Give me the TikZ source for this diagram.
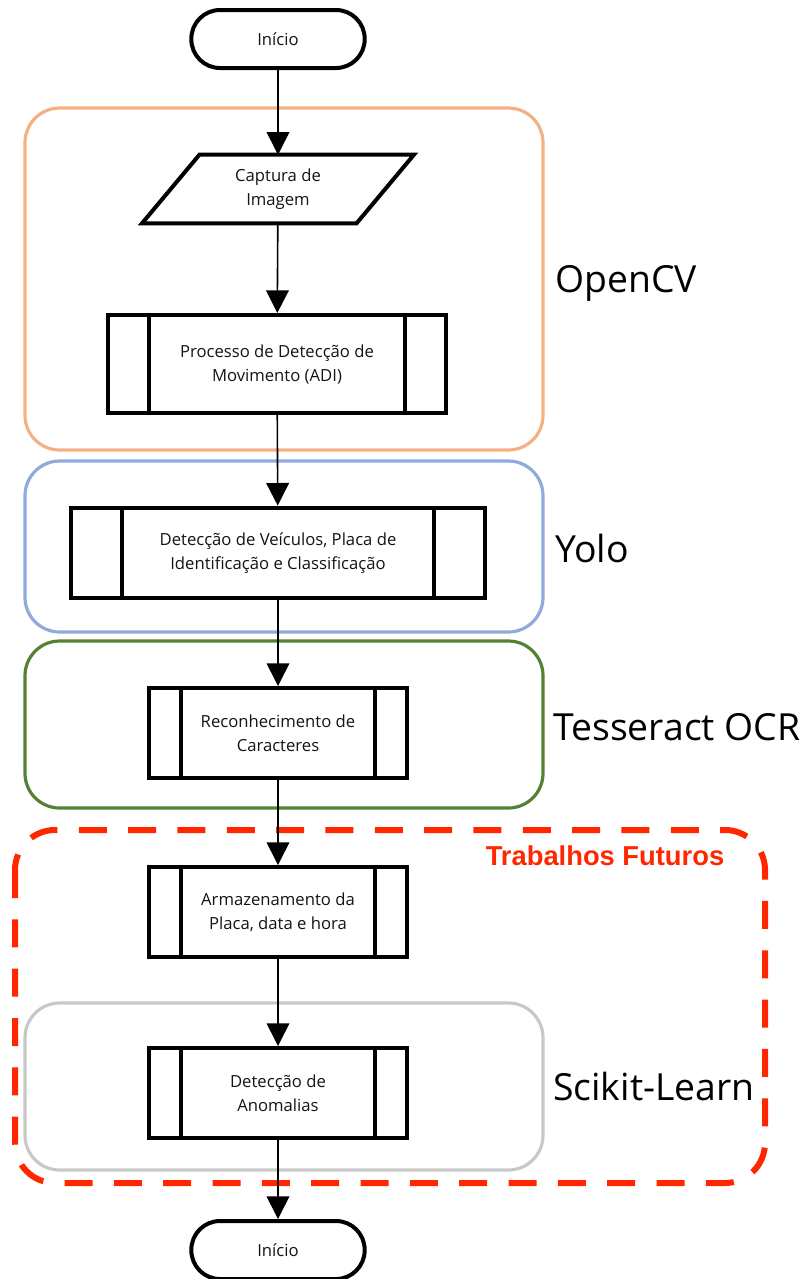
\documentclass[tikz,border=0pt]{standalone}
\usepackage{fontspec}
\setmainfont{Open Sans}
\newfontfamily\flowhead{Liberation Sans}
\usepackage{tikz}
\usetikzlibrary{arrows.meta}
\definecolor{flowink}{RGB}{0,0,0}
\definecolor{flowtext}{RGB}{20,20,20}
\definecolor{flowcv}{RGB}{244,177,131}
\definecolor{flowyolo}{RGB}{143,170,220}
\definecolor{flowocr}{RGB}{84,130,53}
\definecolor{flowsk}{RGB}{200,200,200}
\definecolor{flowred}{RGB}{255,38,0}
\tikzset{
  flowterm/.style={draw=flowink, line width=3pt, fill=white,
    rounded corners=21.5pt, minimum width=130pt, minimum height=43.5pt,
    font=\fontsize{12.5}{18}\selectfont, text=flowtext},
  flowproc/.style={draw=flowink, line width=3pt, fill=white, align=center,
    minimum width=194pt, minimum height=67.5pt, inner sep=0pt,
    font=\fontsize{12.5}{18}\selectfont, text=flowtext,
    path picture={
      \draw[flowink, line width=3pt]
        ([xshift=#1]path picture bounding box.north west) --
        ([xshift=#1]path picture bounding box.south west)
        ([xshift=-#1]path picture bounding box.north east) --
        ([xshift=-#1]path picture bounding box.south east);}},
  flowproc/.default=24pt,
  flowio/.style={align=center, minimum width=160.5pt, minimum height=51pt,
    inner sep=0pt, font=\fontsize{12.5}{18}\selectfont, text=flowtext},
  flowline/.style={draw=flowink, line width=3pt, fill=white},
  flowgroup/.style={line width=2.4pt, rounded corners=26pt},
  flowlabel/.style={anchor=west, inner sep=0pt, text=black,
    font=\fontsize{28}{32}\selectfont},
  flowarrow/.style={-{Triangle[length=17pt, width=17pt]}, line width=1.2pt,
    draw=flowink},
}

\begin{document}
\begin{tikzpicture}[x=0.75pt, y=-0.75pt]
  \useasboundingbox (0,0) rectangle (810,1279);
  % tool groups
  \draw[flowgroup, flowcv] (25,108) rectangle (543,450);
  \draw[flowgroup, flowyolo] (25,461) rectangle (543,632);
  \draw[flowgroup, flowocr] (25,641) rectangle (543,808);
  \draw[flowgroup, flowsk] (25,1003) rectangle (543,1170);
  \draw[flowred, line width=4.5pt, dash pattern=on 21pt off 16pt,
    rounded corners=30pt] (15,830) rectangle (765,1183);

  % flow
  \node[flowterm] (start) at (278,39) {Início};
  \node[flowio] (capture) at (278,189) {Captura de\\Imagem};
  \draw[flowline] ([xshift=21.5pt]capture.north west) -- ([xshift=21.5pt]capture.north east)
    -- ([xshift=-21.5pt]capture.south east) -- ([xshift=-21.5pt]capture.south west) -- cycle;
  \node[flowio] at (capture) {Captura de\\Imagem};
  \node[flowproc=30.75pt, minimum width=253.5pt, minimum height=73.5pt]
    (motion) at (277,364) {Processo de Detecção de\\Movimento (ADI)};
  \node[flowproc=38pt, minimum width=310pt, minimum height=68pt]
    (vehicle) at (278,553) {Detecção de Veículos, Placa de\\Identificação e Classificação};
  \node[flowproc] (ocr) at (278,733) {Reconhecimento de\\Caracteres};
  \node[flowproc] (store) at (278,912) {Armazenamento da\\Placa, data e hora};
  \node[flowproc] (anomaly) at (278,1093) {Detecção de\\Anomalias};
  \node[flowterm] (stop) at (278,1250) {Início};

  \draw[flowarrow] (start) -- (capture);
  \draw[flowarrow] (capture) -- (motion);
  \draw[flowarrow] (motion) -- (vehicle);
  \draw[flowarrow] (vehicle) -- (ocr);
  \draw[flowarrow] (ocr) -- (store);
  \draw[flowarrow] (store) -- (anomaly);
  \draw[flowarrow] (anomaly) -- (stop);

  % labels
  \node[flowlabel] (cvlabel) at (555,283) {OpenCV};
  \node[flowlabel] (yololabel) at (555,548) {Yolo};
  \node[flowlabel] (ocrlabel) at (553,727) {Tesseract OCR};
  \node[flowlabel] (sklabel) at (553,1086) {Scikit-Learn};
  \node[text=flowred, font=\flowhead\bfseries\fontsize{20.5}{24}\selectfont]
    (futlabel) at (605,856) {Trabalhos Futuros};
\end{tikzpicture}
\end{document}
